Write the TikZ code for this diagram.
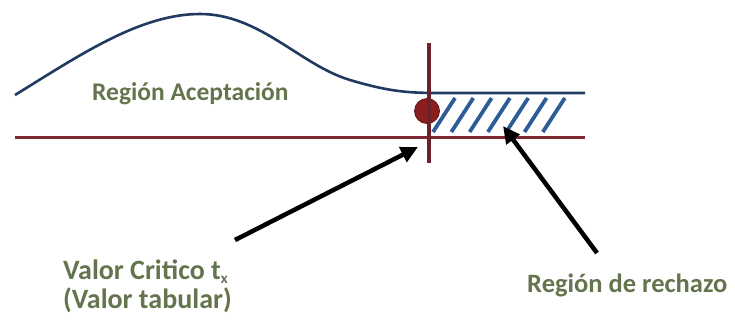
\documentclass[tikz,border=0pt]{standalone}
\usepackage{fontspec}
\setmainfont{Carlito}
\usetikzlibrary{arrows.meta}
\definecolor{txtgreen}{RGB}{100,116,76}
\definecolor{curveblue}{RGB}{32,58,96}
\definecolor{axisred}{RGB}{125,40,50}
\definecolor{dotred}{RGB}{138,30,30}
\definecolor{hatchblue}{RGB}{46,92,150}
\tikzset{
  lbl/.style={inner sep=0pt, anchor=base west, text=txtgreen, font=\bfseries},
  pointer/.style={line width=4.5pt, black, -{Triangle[length=17pt,width=16pt]}, shorten >=0pt},
  hatchline/.style={line width=3.8pt, hatchblue},
}
\begin{document}
\begin{tikzpicture}[x=1pt,y=-1pt]
\useasboundingbox (0,0) rectangle (735,322);
% hatching
\foreach \i in {0,...,6}{
  \draw[hatchline] ({433+18.3*\i},132) -- ({455+18.3*\i},98);
}
% density curve
\draw[curveblue, line width=2.6pt]
  (15,95) .. controls (80,55) and (140,14) .. (200,14)
  .. controls (260,14) and (300,65) .. (350,80)
  .. controls (390,92) and (410,93) .. (440,93) -- (585,93);
% critical point
\node[circle, fill=dotred, draw=dotred!70!black, line width=0.8pt, minimum size=25pt, inner sep=0pt] (crit) at (427,111) {};
% axis
\draw[axisred, line width=3pt] (15,137) -- (585,137);
\draw[axisred!85!black, line width=3.8pt] (429,43) -- (429,163);
% labels
\node[lbl, font=\bfseries\fontsize{25.5}{28}\selectfont] (acc) at (92,100) {Región Aceptación};
\node[lbl, font=\bfseries\fontsize{28}{29}\selectfont] (val1) at (63,279) {Valor Critico t\raisebox{-4pt}{\fontsize{15}{15}\selectfont x}};
\node[lbl, font=\bfseries\fontsize{28}{29}\selectfont] (val2) at (63,308) {(Valor tabular)};
\node[lbl, font=\bfseries\fontsize{26.5}{28}\selectfont] (rej) at (527,292) {Región de rechazo};
% pointers
\coordinate (t1) at (235,240);
\coordinate (h1) at (418,147);
\coordinate (t2) at (597,253);
\coordinate (h2) at (503,126);
\draw[pointer] (t1) -- (h1);
\draw[pointer] (t2) -- (h2);
\end{tikzpicture}
\end{document}
